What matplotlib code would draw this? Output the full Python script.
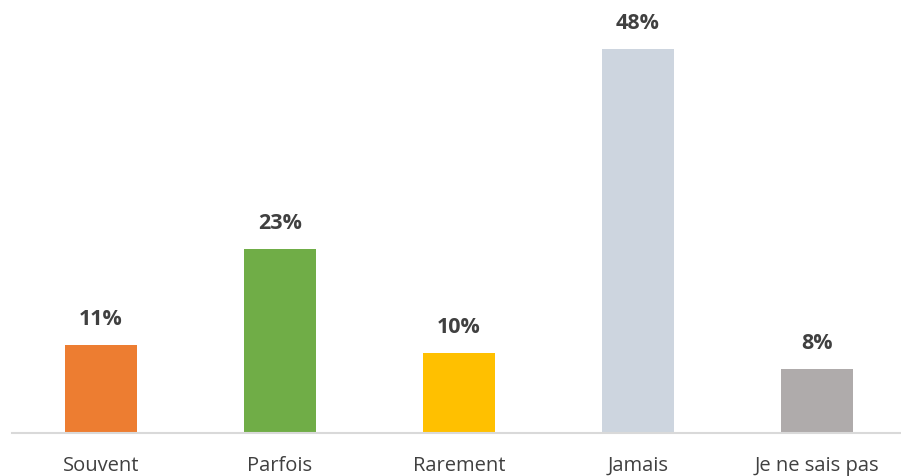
import matplotlib
matplotlib.use("Agg")
import matplotlib.pyplot as plt

categories = ["Souvent", "Parfois", "Rarement", "Jamais", "Je ne sais pas"]
values = [11, 23, 10, 48, 8]
labels = ["11%", "23%", "10%", "48%", "8%"]
colors = ["#ED7D31", "#70AD47", "#FFC000", "#CDD5DF", "#AFABAB"]

plt.rcParams['font.family'] = ['Open Sans', 'DejaVu Sans']

W, H = 901, 476
fig = plt.figure(figsize=(W/100, H/100), dpi=100)
left_px = 11.5
cat_w = 179
bottom_px = H - 433
top_px = 9
ax = fig.add_axes([left_px/W, bottom_px/H, 5*cat_w/W, (433-top_px)/H])

x = list(range(len(categories)))
ax.bar(x, values, width=0.40, color=colors, zorder=2)
ax.set_xlim(-0.5, 4.5)
ax.set_ylim(0, 53)

for xi, v, lab in zip(x, values, labels):
    ax.annotate(lab, (xi, v), xytext=(0, 10.5), textcoords="offset points",
                ha="center", va="bottom", fontsize=15.5, fontweight="bold", color="#404040")

ax.set_xticks(x)
ax.set_xticklabels(categories, fontsize=14.5, color="#404040")
ax.tick_params(axis="x", length=0, pad=16.5)
ax.set_yticks([])
for s in ["top", "right", "left"]:
    ax.spines[s].set_visible(False)
ax.spines["bottom"].set_color("#D9D9D9")
ax.spines["bottom"].set_linewidth(1.5)

fig.savefig("out.png", dpi=100)
